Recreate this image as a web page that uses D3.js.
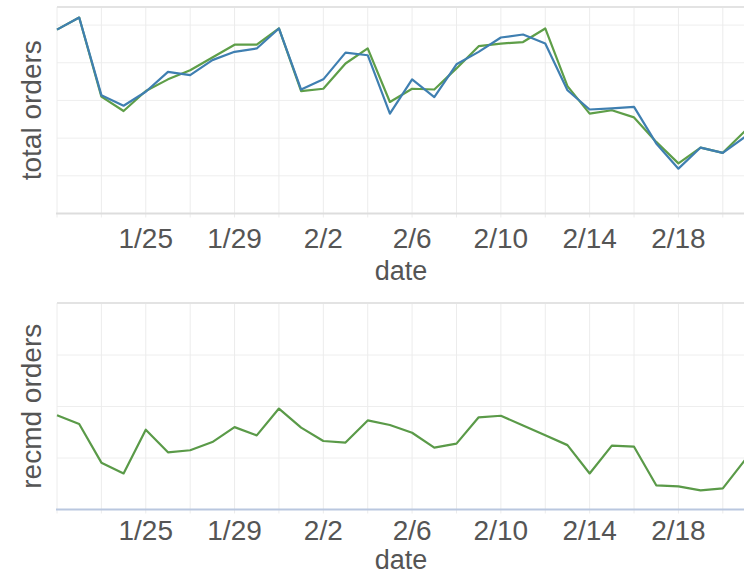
<!DOCTYPE html>
<html>
<head>
<meta charset="UTF-8">
<script src="https://d3js.org/d3.v7.min.js"></script>
<style>
  body { margin: 0; background: #fff; }
  text { font-family: "Liberation Sans", Arial, sans-serif; fill: #555; }
</style>
</head>
<body>
<svg id="chart" width="744" height="582"></svg>
<script>
// one point per day
var dates = ["2019-01-21", "2019-01-22", "2019-01-23", "2019-01-24", "2019-01-25", "2019-01-26",
  "2019-01-27", "2019-01-28", "2019-01-29", "2019-01-30", "2019-01-31", "2019-02-01",
  "2019-02-02", "2019-02-03", "2019-02-04", "2019-02-05", "2019-02-06", "2019-02-07",
  "2019-02-08", "2019-02-09", "2019-02-10", "2019-02-11", "2019-02-12", "2019-02-13",
  "2019-02-14", "2019-02-15", "2019-02-16", "2019-02-17", "2019-02-18", "2019-02-19",
  "2019-02-20", "2019-02-21"];

var totalBlue = [488, 520, 314, 286, 323, 376, 367, 407, 429, 438, 491, 329, 356, 427, 420, 265,
  356, 309, 396, 429, 467, 475, 451, 327, 276, 279, 283, 186, 119, 175, 161, 203];
var totalGreen = [488, 520, 310, 272, 325, 356, 380, 414, 448, 448, 491, 325, 331, 398, 438, 296,
  331, 329, 385, 444, 451, 455, 491, 338, 265, 274, 255, 190, 133, 175, 161, 219];
var recmd = [183, 166, 91, 70, 155, 111, 115, 131, 160, 144, 196, 159, 133, 130, 173, 164,
  149, 120, 128, 179, 182, 163, 144, 125, 70, 124, 122, 47, 45, 37, 41, 96];

var tickLabels = ["1/25", "1/29", "2/2", "2/6", "2/10", "2/14", "2/18"];

var parse = d3.timeParse("%Y-%m-%d");
var days = dates.map(parse);

var svg = d3.select("#chart");
var left = 57, right = 745;

var x = d3.scaleTime()
  .domain([days[0], days[days.length - 1]])
  .range([left, right]);

// grid every second day, labels every fourth
var gridDays = days.filter(function (d, i) { return i % 2 === 0; });
var labelDays = tickLabels.map(function (s) {
  var p = s.split("/");
  return new Date(2019, +p[0] - 1, +p[1]);
});

function panel(cfg) {
  var y = d3.scaleLinear().domain(cfg.domain).range([cfg.bottom, cfg.top]);
  var g = svg.append("g");

  // horizontal grid
  g.selectAll(".hgrid")
    .data(d3.range(cfg.step, cfg.domain[1], cfg.step))
    .enter().append("line")
    .attr("x1", left).attr("x2", right)
    .attr("y1", function (d) { return y(d); })
    .attr("y2", function (d) { return y(d); })
    .attr("stroke", "#eeeeee").attr("stroke-width", 1);

  // vertical grid
  g.selectAll(".vgrid")
    .data(gridDays)
    .enter().append("line")
    .attr("x1", function (d) { return x(d); })
    .attr("x2", function (d) { return x(d); })
    .attr("y1", cfg.top).attr("y2", cfg.bottom + 4)
    .attr("stroke", "#ececec").attr("stroke-width", 1);

  // top border
  g.append("line")
    .attr("x1", left).attr("x2", right)
    .attr("y1", cfg.top).attr("y2", cfg.top)
    .attr("stroke", "#e3e3e3").attr("stroke-width", 2);

  // bottom axis line
  g.append("line")
    .attr("x1", left - 1).attr("x2", right)
    .attr("y1", cfg.bottom).attr("y2", cfg.bottom)
    .attr("stroke", cfg.axisColor).attr("stroke-width", 2);

  // series
  cfg.series.forEach(function (s) {
    var line = d3.line()
      .x(function (d, i) { return x(days[i]); })
      .y(function (d) { return y(d); });
    g.append("path")
      .datum(s.values)
      .attr("d", line)
      .attr("fill", "none")
      .attr("stroke", s.color)
      .attr("stroke-width", 2.2)
      .attr("stroke-linejoin", "round");
  });

  // tick labels
  g.selectAll(".tick-label")
    .data(labelDays)
    .enter().append("text")
    .attr("x", function (d) { return x(d); })
    .attr("y", cfg.bottom + cfg.labelOffset)
    .attr("text-anchor", "middle")
    .style("font-size", "28px")
    .text(function (d, i) { return tickLabels[i]; });

  g.append("text")
    .attr("x", (left + right) / 2)
    .attr("y", cfg.bottom + cfg.titleOffset)
    .attr("text-anchor", "middle")
    .style("font-size", "27px")
    .text("date");

  g.append("text")
    .attr("transform", "translate(41," + ((cfg.top + cfg.bottom) / 2) + ") rotate(-90)")
    .attr("text-anchor", "middle")
    .style("font-size", "28px")
    .text(cfg.yTitle);
}

panel({
  top: 7, bottom: 213.5, domain: [0, 548], step: 100,
  axisColor: "#dddddd", labelOffset: 34.5, titleOffset: 66,
  yTitle: "total orders",
  series: [
    { values: totalGreen, color: "#5e9e48" },
    { values: totalBlue, color: "#3f7fb1" }
  ]
});

panel({
  top: 303, bottom: 509.5, domain: [0, 401], step: 100,
  axisColor: "#b9c7df", labelOffset: 30.5, titleOffset: 59,
  yTitle: "recmd orders",
  series: [
    { values: recmd, color: "#5a9a48" }
  ]
});
</script>
</body>
</html>
